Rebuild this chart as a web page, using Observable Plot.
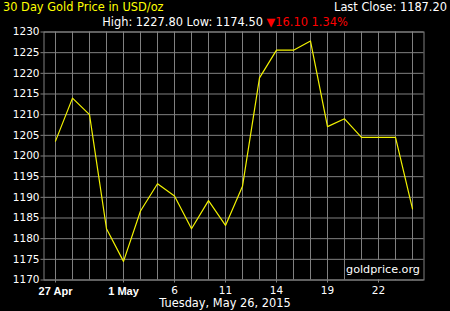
<!DOCTYPE html>
<html>
<head>
<meta charset="utf-8">
<script src="https://cdn.jsdelivr.net/npm/d3@7"></script>
<script src="https://cdn.jsdelivr.net/npm/@observablehq/plot@0.6"></script>
<style>
  html, body { margin: 0; padding: 0; background: #000; }
  #wrap { position: relative; width: 450px; height: 311px; background: #000; overflow: hidden;
          font-family: "DejaVu Sans", sans-serif; color: #fff; }
  .t { position: absolute; white-space: nowrap; line-height: 1; font-size: 11.4px; }
  #chart { position: absolute; left: 0; top: 0; }
</style>
</head>
<body>
<div id="wrap">
  <div id="chart"></div>
  <div class="t" id="title" style="left:3px; top:2px; color:#ffff00;"></div>
  <div class="t" id="close" style="right:3px; top:2px;"></div>
  <div class="t" id="hilo" style="left:0; width:450px; text-align:center; top:17px;"></div>
  <div class="t" id="wm" style="left:345px; top:260px; width:76px; height:19px; background:#000; text-align:center; line-height:19px; font-size:11.2px;"></div>
  <div class="t" id="date" style="left:0; width:450px; text-align:center; top:298px;"></div>
</div>
<script>
const titleText = "30 Day Gold Price in USD/oz";
const closeText = "Last Close: 1187.20";
const highText = "High: 1227.80";
const lowText = "Low: 1174.50";
const changeText = "▼16.10 1.34%";
const dateText = "Tuesday, May 26, 2015";
const watermark = "goldprice.org";

const dates = ["27 Apr","28 Apr","29 Apr","30 Apr","1 May","4 May","5 May","6 May","7 May","8 May","11 May",
               "12 May","13 May","14 May","15 May","18 May","19 May","20 May","21 May","22 May","25 May","26 May"];
const prices = [1203.6,1214.0,1210.0,1182.4,1174.5,1186.7,1193.3,1190.3,1182.4,1189.2,1183.2,
                1192.7,1218.9,1225.6,1225.6,1227.8,1207.1,1209.0,1204.5,1204.5,1204.5,1187.2];
const boldTicks = ["27 Apr","1 May"];
const plainTicks = ["6 May","11 May","14 May","19 May","22 May"];
const plainLabels = ["6","11","14","19","22"];
const yTicks = [1170,1175,1180,1185,1190,1195,1200,1205,1210,1215,1220,1225,1230];

document.getElementById("title").textContent = titleText;
document.getElementById("close").textContent = closeText;
document.getElementById("hilo").innerHTML = highText + " " + lowText + " <span style='color:#ff0000'>" + changeText + "</span>";
document.getElementById("wm").textContent = watermark;
document.getElementById("date").textContent = dateText;

const data = dates.map((d, i) => ({date: d, price: prices[i]}));
const grid = "#808080";

const plot = Plot.plot({
  width: 450,
  height: 311,
  marginTop: 31.5,
  marginBottom: 31.5,
  marginLeft: 43.5,
  marginRight: 26.5,
  style: {background: "#000", color: "#fff", fontFamily: "DejaVu Sans, sans-serif", overflow: "visible"},
  x: {type: "point", domain: dates, padding: 0.5},
  y: {domain: [1170, 1230]},
  marks: [
    Plot.gridX(dates, {stroke: grid, strokeOpacity: 1}),
    Plot.gridY(yTicks, {stroke: grid, strokeOpacity: 1}),
    Plot.frame({stroke: grid}),
    Plot.axisY(yTicks, {tickSize: 3, tickPadding: 1.5, fontSize: 10.5, stroke: grid, fill: "#fff", label: null,
      tickFormat: d => String(d)}),
    Plot.axisX(boldTicks, {tickSize: 3, tickPadding: 4, fontSize: 11, fontWeight: "bold",
      fontFamily: "Liberation Sans, Arial, sans-serif", stroke: grid, fill: "#fff", label: null}),
    Plot.axisX(plainTicks, {tickSize: 3, tickPadding: 4, fontSize: 10.5, stroke: grid, fill: "#fff", label: null,
      tickFormat: d => plainLabels[plainTicks.indexOf(d)]}),
    Plot.line(data, {x: "date", y: "price", stroke: "#f2f200", strokeWidth: 1.2})
  ]
});
document.getElementById("chart").appendChild(plot);
</script>
</body>
</html>
